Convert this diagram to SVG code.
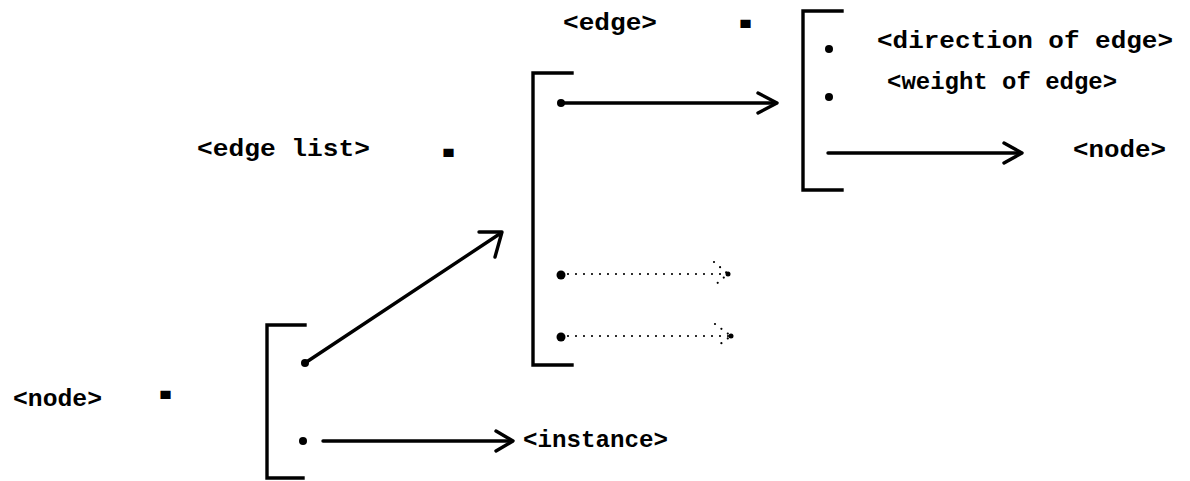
<svg xmlns="http://www.w3.org/2000/svg" width="1190" height="481" viewBox="0 0 1190 481">
<style>
.t{font-family:"Liberation Mono","DejaVu Sans Mono",monospace;font-weight:bold;font-size:24px;fill:#000}
.eq{font-family:"Liberation Mono","DejaVu Sans Mono",monospace;font-weight:bold;font-size:15px;fill:#000;stroke:#000;stroke-width:2.6}
.br{fill:none;stroke:#000;stroke-width:3.4;stroke-linecap:square}
.ln{fill:none;stroke:#000;stroke-width:3.4;stroke-linecap:round;stroke-linejoin:round}
.dt{fill:none;stroke:#000;stroke-width:2.2;stroke-linecap:round;stroke-dasharray:0 8}
.dot{fill:#000}
</style>
<rect width="1190" height="481" fill="#fff"/>

<g id="node-def">
  <text class="t" x="13" y="406" textLength="89" lengthAdjust="spacingAndGlyphs">&lt;node&gt;</text>
  <text class="eq" x="161" y="400">=</text>
  <path class="br" d="M305,325 H267 V478 H303"/>
  <circle class="dot" cx="305" cy="363" r="4"/>
  <circle class="dot" cx="303" cy="441" r="4"/>
</g>

<g id="instance">
  <text class="t" x="523" y="447" textLength="145" lengthAdjust="spacingAndGlyphs">&lt;instance&gt;</text>
</g>

<g id="edge-list">
  <text class="t" x="197" y="156" textLength="173" lengthAdjust="spacingAndGlyphs">&lt;edge list&gt;</text>
  <text class="eq" x="444" y="158">=</text>
  <path class="br" d="M572,73 H533 V365 H572"/>
  <circle class="dot" cx="561" cy="103" r="4"/>
  <circle class="dot" cx="561" cy="275" r="4.5"/>
  <circle class="dot" cx="561" cy="337" r="4.5"/>
</g>

<g id="edge">
  <text class="t" x="563" y="30" textLength="94" lengthAdjust="spacingAndGlyphs">&lt;edge&gt;</text>
  <text class="eq" x="741" y="29">=</text>
  <path class="br" d="M842,11 H803 V190 H842"/>
  <circle class="dot" cx="829" cy="49" r="4"/>
  <circle class="dot" cx="829" cy="97" r="4"/>
  <text class="t" x="877" y="48" textLength="296" lengthAdjust="spacingAndGlyphs">&lt;direction of edge&gt;</text>
  <text class="t" x="887" y="89" textLength="230" lengthAdjust="spacingAndGlyphs">&lt;weight of edge&gt;</text>
</g>

<g id="node-ref">
  <text class="t" x="1073" y="157" textLength="93" lengthAdjust="spacingAndGlyphs">&lt;node&gt;</text>
</g>

<g id="connectors">
  <path class="ln" d="M305,363 L501,233"/>
  <path class="ln" d="M479,232 H502 L495,257"/>
  <path class="ln" d="M323,441 H512"/>
  <path class="ln" d="M496,431 L513,441 L496,451"/>
  <path class="ln" d="M561,103 H776"/>
  <path class="ln" d="M758,93 L777,103 L758,113"/>
  <path class="ln" d="M828,153 H1021"/>
  <path class="ln" d="M1004,143 L1022,153 L1004,163"/>
  <path class="dt" d="M568,274 H728"/>
  <path class="dt" d="M714,262 L728,274 L714,286"/>
  <circle class="dot" cx="728" cy="274" r="2.5"/>
  <path class="dt" d="M568,336 H731"/>
  <path class="dt" d="M715,324 L731,336 L715,348"/>
  <circle class="dot" cx="731" cy="336" r="2.5"/>
</g>
</svg>
